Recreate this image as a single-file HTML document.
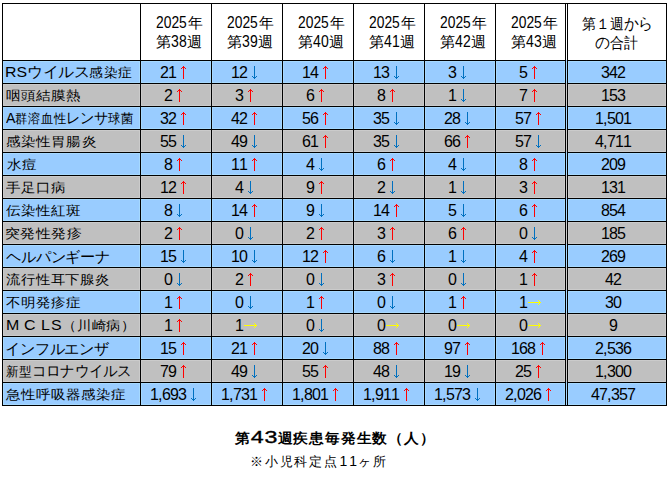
<!DOCTYPE html>
<html><head><meta charset="utf-8"><style>
html,body{margin:0;padding:0;}
body{width:668px;height:485px;background:#fff;position:relative;overflow:hidden;font-family:"Liberation Sans",sans-serif;color:#000;}
.r{position:absolute;}
.hl{position:absolute;height:1px;background:#000;}
.vl{position:absolute;width:1px;background:#000;}
.t{position:absolute;white-space:nowrap;transform-origin:0 0;}
.nm{font-size:15px;letter-spacing:0.3px;line-height:23px;}
.nr{position:absolute;left:0;top:0;height:23px;}
.d{position:absolute;top:0;text-align:center;font-size:16px;line-height:23px;}
.hn{display:inline-block;letter-spacing:0;}
.hn span{display:inline-block;font-size:16.2px;transform:scaleX(0.86);transform-origin:0 0;}
.c1d{display:inline-block;width:12.8px;font-weight:normal;}
.c1d span{display:inline-block;-webkit-text-stroke:0.35px #000;font-size:16px;transform:scaleX(1.38);transform-origin:0 0;}
.fw{display:inline-block;font-size:16.5px;letter-spacing:0;}
.lt{font-size:17px;letter-spacing:0;}
.kn{font-size:16.5px;letter-spacing:-0.3px;}
.hg{font-size:16px;}
.c2d{display:inline-block;width:9.8px;text-align:center;font-size:14px;letter-spacing:0;}
.hd{font-size:15px;letter-spacing:0px;line-height:20px;}
.cap1{font-weight:bold;font-size:14px;letter-spacing:1px;line-height:20px;}
.cap2{font-size:13px;letter-spacing:1.8px;line-height:16px;}
</style></head><body>

<div class="r" style="left:2px;top:60px;width:665px;height:23px;background:#99ccff"></div>
<div class="r" style="left:2px;top:83px;width:665px;height:23px;background:#c0c0c0"></div>
<div class="r" style="left:2px;top:106px;width:665px;height:23px;background:#99ccff"></div>
<div class="r" style="left:2px;top:129px;width:665px;height:23px;background:#c0c0c0"></div>
<div class="r" style="left:2px;top:152px;width:665px;height:23px;background:#99ccff"></div>
<div class="r" style="left:2px;top:175px;width:665px;height:23px;background:#c0c0c0"></div>
<div class="r" style="left:2px;top:198px;width:665px;height:23px;background:#99ccff"></div>
<div class="r" style="left:2px;top:221px;width:665px;height:23px;background:#c0c0c0"></div>
<div class="r" style="left:2px;top:244px;width:665px;height:23px;background:#99ccff"></div>
<div class="r" style="left:2px;top:267px;width:665px;height:23px;background:#c0c0c0"></div>
<div class="r" style="left:2px;top:290px;width:665px;height:23px;background:#99ccff"></div>
<div class="r" style="left:2px;top:313px;width:665px;height:23px;background:#c0c0c0"></div>
<div class="r" style="left:2px;top:336px;width:665px;height:23px;background:#99ccff"></div>
<div class="r" style="left:2px;top:359px;width:665px;height:23px;background:#c0c0c0"></div>
<div class="r" style="left:2px;top:382px;width:665px;height:23px;background:#99ccff"></div>
<div class="r" style="left:3px;top:61px;width:663px;height:1px;background:#a6d9ff"></div>
<div class="r" style="left:3px;top:82px;width:663px;height:1px;background:#a6d9ff"></div>
<div class="r" style="left:3px;top:61px;width:1px;height:22px;background:#a6d9ff"></div>
<div class="r" style="left:139px;top:61px;width:1px;height:22px;background:#a6d9ff"></div>
<div class="r" style="left:141px;top:61px;width:1px;height:22px;background:#a6d9ff"></div>
<div class="r" style="left:210px;top:61px;width:1px;height:22px;background:#a6d9ff"></div>
<div class="r" style="left:212px;top:61px;width:1px;height:22px;background:#a6d9ff"></div>
<div class="r" style="left:281px;top:61px;width:1px;height:22px;background:#a6d9ff"></div>
<div class="r" style="left:283px;top:61px;width:1px;height:22px;background:#a6d9ff"></div>
<div class="r" style="left:352px;top:61px;width:1px;height:22px;background:#a6d9ff"></div>
<div class="r" style="left:354px;top:61px;width:1px;height:22px;background:#a6d9ff"></div>
<div class="r" style="left:423px;top:61px;width:1px;height:22px;background:#a6d9ff"></div>
<div class="r" style="left:425px;top:61px;width:1px;height:22px;background:#a6d9ff"></div>
<div class="r" style="left:494px;top:61px;width:1px;height:22px;background:#a6d9ff"></div>
<div class="r" style="left:496px;top:61px;width:1px;height:22px;background:#a6d9ff"></div>
<div class="r" style="left:564px;top:61px;width:1px;height:22px;background:#a6d9ff"></div>
<div class="r" style="left:566px;top:61px;width:1px;height:22px;background:#a6d9ff"></div>
<div class="r" style="left:566px;top:61px;width:1px;height:22px;background:#a6d9ff"></div>
<div class="r" style="left:568px;top:61px;width:1px;height:22px;background:#a6d9ff"></div>
<div class="r" style="left:665px;top:61px;width:1px;height:22px;background:#a6d9ff"></div>
<div class="r" style="left:3px;top:84px;width:663px;height:1px;background:#cbcbcb"></div>
<div class="r" style="left:3px;top:105px;width:663px;height:1px;background:#cbcbcb"></div>
<div class="r" style="left:3px;top:84px;width:1px;height:22px;background:#cbcbcb"></div>
<div class="r" style="left:139px;top:84px;width:1px;height:22px;background:#cbcbcb"></div>
<div class="r" style="left:141px;top:84px;width:1px;height:22px;background:#cbcbcb"></div>
<div class="r" style="left:210px;top:84px;width:1px;height:22px;background:#cbcbcb"></div>
<div class="r" style="left:212px;top:84px;width:1px;height:22px;background:#cbcbcb"></div>
<div class="r" style="left:281px;top:84px;width:1px;height:22px;background:#cbcbcb"></div>
<div class="r" style="left:283px;top:84px;width:1px;height:22px;background:#cbcbcb"></div>
<div class="r" style="left:352px;top:84px;width:1px;height:22px;background:#cbcbcb"></div>
<div class="r" style="left:354px;top:84px;width:1px;height:22px;background:#cbcbcb"></div>
<div class="r" style="left:423px;top:84px;width:1px;height:22px;background:#cbcbcb"></div>
<div class="r" style="left:425px;top:84px;width:1px;height:22px;background:#cbcbcb"></div>
<div class="r" style="left:494px;top:84px;width:1px;height:22px;background:#cbcbcb"></div>
<div class="r" style="left:496px;top:84px;width:1px;height:22px;background:#cbcbcb"></div>
<div class="r" style="left:564px;top:84px;width:1px;height:22px;background:#cbcbcb"></div>
<div class="r" style="left:566px;top:84px;width:1px;height:22px;background:#cbcbcb"></div>
<div class="r" style="left:566px;top:84px;width:1px;height:22px;background:#cbcbcb"></div>
<div class="r" style="left:568px;top:84px;width:1px;height:22px;background:#cbcbcb"></div>
<div class="r" style="left:665px;top:84px;width:1px;height:22px;background:#cbcbcb"></div>
<div class="r" style="left:3px;top:107px;width:663px;height:1px;background:#a6d9ff"></div>
<div class="r" style="left:3px;top:128px;width:663px;height:1px;background:#a6d9ff"></div>
<div class="r" style="left:3px;top:107px;width:1px;height:22px;background:#a6d9ff"></div>
<div class="r" style="left:139px;top:107px;width:1px;height:22px;background:#a6d9ff"></div>
<div class="r" style="left:141px;top:107px;width:1px;height:22px;background:#a6d9ff"></div>
<div class="r" style="left:210px;top:107px;width:1px;height:22px;background:#a6d9ff"></div>
<div class="r" style="left:212px;top:107px;width:1px;height:22px;background:#a6d9ff"></div>
<div class="r" style="left:281px;top:107px;width:1px;height:22px;background:#a6d9ff"></div>
<div class="r" style="left:283px;top:107px;width:1px;height:22px;background:#a6d9ff"></div>
<div class="r" style="left:352px;top:107px;width:1px;height:22px;background:#a6d9ff"></div>
<div class="r" style="left:354px;top:107px;width:1px;height:22px;background:#a6d9ff"></div>
<div class="r" style="left:423px;top:107px;width:1px;height:22px;background:#a6d9ff"></div>
<div class="r" style="left:425px;top:107px;width:1px;height:22px;background:#a6d9ff"></div>
<div class="r" style="left:494px;top:107px;width:1px;height:22px;background:#a6d9ff"></div>
<div class="r" style="left:496px;top:107px;width:1px;height:22px;background:#a6d9ff"></div>
<div class="r" style="left:564px;top:107px;width:1px;height:22px;background:#a6d9ff"></div>
<div class="r" style="left:566px;top:107px;width:1px;height:22px;background:#a6d9ff"></div>
<div class="r" style="left:566px;top:107px;width:1px;height:22px;background:#a6d9ff"></div>
<div class="r" style="left:568px;top:107px;width:1px;height:22px;background:#a6d9ff"></div>
<div class="r" style="left:665px;top:107px;width:1px;height:22px;background:#a6d9ff"></div>
<div class="r" style="left:3px;top:130px;width:663px;height:1px;background:#cbcbcb"></div>
<div class="r" style="left:3px;top:151px;width:663px;height:1px;background:#cbcbcb"></div>
<div class="r" style="left:3px;top:130px;width:1px;height:22px;background:#cbcbcb"></div>
<div class="r" style="left:139px;top:130px;width:1px;height:22px;background:#cbcbcb"></div>
<div class="r" style="left:141px;top:130px;width:1px;height:22px;background:#cbcbcb"></div>
<div class="r" style="left:210px;top:130px;width:1px;height:22px;background:#cbcbcb"></div>
<div class="r" style="left:212px;top:130px;width:1px;height:22px;background:#cbcbcb"></div>
<div class="r" style="left:281px;top:130px;width:1px;height:22px;background:#cbcbcb"></div>
<div class="r" style="left:283px;top:130px;width:1px;height:22px;background:#cbcbcb"></div>
<div class="r" style="left:352px;top:130px;width:1px;height:22px;background:#cbcbcb"></div>
<div class="r" style="left:354px;top:130px;width:1px;height:22px;background:#cbcbcb"></div>
<div class="r" style="left:423px;top:130px;width:1px;height:22px;background:#cbcbcb"></div>
<div class="r" style="left:425px;top:130px;width:1px;height:22px;background:#cbcbcb"></div>
<div class="r" style="left:494px;top:130px;width:1px;height:22px;background:#cbcbcb"></div>
<div class="r" style="left:496px;top:130px;width:1px;height:22px;background:#cbcbcb"></div>
<div class="r" style="left:564px;top:130px;width:1px;height:22px;background:#cbcbcb"></div>
<div class="r" style="left:566px;top:130px;width:1px;height:22px;background:#cbcbcb"></div>
<div class="r" style="left:566px;top:130px;width:1px;height:22px;background:#cbcbcb"></div>
<div class="r" style="left:568px;top:130px;width:1px;height:22px;background:#cbcbcb"></div>
<div class="r" style="left:665px;top:130px;width:1px;height:22px;background:#cbcbcb"></div>
<div class="r" style="left:3px;top:153px;width:663px;height:1px;background:#a6d9ff"></div>
<div class="r" style="left:3px;top:174px;width:663px;height:1px;background:#a6d9ff"></div>
<div class="r" style="left:3px;top:153px;width:1px;height:22px;background:#a6d9ff"></div>
<div class="r" style="left:139px;top:153px;width:1px;height:22px;background:#a6d9ff"></div>
<div class="r" style="left:141px;top:153px;width:1px;height:22px;background:#a6d9ff"></div>
<div class="r" style="left:210px;top:153px;width:1px;height:22px;background:#a6d9ff"></div>
<div class="r" style="left:212px;top:153px;width:1px;height:22px;background:#a6d9ff"></div>
<div class="r" style="left:281px;top:153px;width:1px;height:22px;background:#a6d9ff"></div>
<div class="r" style="left:283px;top:153px;width:1px;height:22px;background:#a6d9ff"></div>
<div class="r" style="left:352px;top:153px;width:1px;height:22px;background:#a6d9ff"></div>
<div class="r" style="left:354px;top:153px;width:1px;height:22px;background:#a6d9ff"></div>
<div class="r" style="left:423px;top:153px;width:1px;height:22px;background:#a6d9ff"></div>
<div class="r" style="left:425px;top:153px;width:1px;height:22px;background:#a6d9ff"></div>
<div class="r" style="left:494px;top:153px;width:1px;height:22px;background:#a6d9ff"></div>
<div class="r" style="left:496px;top:153px;width:1px;height:22px;background:#a6d9ff"></div>
<div class="r" style="left:564px;top:153px;width:1px;height:22px;background:#a6d9ff"></div>
<div class="r" style="left:566px;top:153px;width:1px;height:22px;background:#a6d9ff"></div>
<div class="r" style="left:566px;top:153px;width:1px;height:22px;background:#a6d9ff"></div>
<div class="r" style="left:568px;top:153px;width:1px;height:22px;background:#a6d9ff"></div>
<div class="r" style="left:665px;top:153px;width:1px;height:22px;background:#a6d9ff"></div>
<div class="r" style="left:3px;top:176px;width:663px;height:1px;background:#cbcbcb"></div>
<div class="r" style="left:3px;top:197px;width:663px;height:1px;background:#cbcbcb"></div>
<div class="r" style="left:3px;top:176px;width:1px;height:22px;background:#cbcbcb"></div>
<div class="r" style="left:139px;top:176px;width:1px;height:22px;background:#cbcbcb"></div>
<div class="r" style="left:141px;top:176px;width:1px;height:22px;background:#cbcbcb"></div>
<div class="r" style="left:210px;top:176px;width:1px;height:22px;background:#cbcbcb"></div>
<div class="r" style="left:212px;top:176px;width:1px;height:22px;background:#cbcbcb"></div>
<div class="r" style="left:281px;top:176px;width:1px;height:22px;background:#cbcbcb"></div>
<div class="r" style="left:283px;top:176px;width:1px;height:22px;background:#cbcbcb"></div>
<div class="r" style="left:352px;top:176px;width:1px;height:22px;background:#cbcbcb"></div>
<div class="r" style="left:354px;top:176px;width:1px;height:22px;background:#cbcbcb"></div>
<div class="r" style="left:423px;top:176px;width:1px;height:22px;background:#cbcbcb"></div>
<div class="r" style="left:425px;top:176px;width:1px;height:22px;background:#cbcbcb"></div>
<div class="r" style="left:494px;top:176px;width:1px;height:22px;background:#cbcbcb"></div>
<div class="r" style="left:496px;top:176px;width:1px;height:22px;background:#cbcbcb"></div>
<div class="r" style="left:564px;top:176px;width:1px;height:22px;background:#cbcbcb"></div>
<div class="r" style="left:566px;top:176px;width:1px;height:22px;background:#cbcbcb"></div>
<div class="r" style="left:566px;top:176px;width:1px;height:22px;background:#cbcbcb"></div>
<div class="r" style="left:568px;top:176px;width:1px;height:22px;background:#cbcbcb"></div>
<div class="r" style="left:665px;top:176px;width:1px;height:22px;background:#cbcbcb"></div>
<div class="r" style="left:3px;top:199px;width:663px;height:1px;background:#a6d9ff"></div>
<div class="r" style="left:3px;top:220px;width:663px;height:1px;background:#a6d9ff"></div>
<div class="r" style="left:3px;top:199px;width:1px;height:22px;background:#a6d9ff"></div>
<div class="r" style="left:139px;top:199px;width:1px;height:22px;background:#a6d9ff"></div>
<div class="r" style="left:141px;top:199px;width:1px;height:22px;background:#a6d9ff"></div>
<div class="r" style="left:210px;top:199px;width:1px;height:22px;background:#a6d9ff"></div>
<div class="r" style="left:212px;top:199px;width:1px;height:22px;background:#a6d9ff"></div>
<div class="r" style="left:281px;top:199px;width:1px;height:22px;background:#a6d9ff"></div>
<div class="r" style="left:283px;top:199px;width:1px;height:22px;background:#a6d9ff"></div>
<div class="r" style="left:352px;top:199px;width:1px;height:22px;background:#a6d9ff"></div>
<div class="r" style="left:354px;top:199px;width:1px;height:22px;background:#a6d9ff"></div>
<div class="r" style="left:423px;top:199px;width:1px;height:22px;background:#a6d9ff"></div>
<div class="r" style="left:425px;top:199px;width:1px;height:22px;background:#a6d9ff"></div>
<div class="r" style="left:494px;top:199px;width:1px;height:22px;background:#a6d9ff"></div>
<div class="r" style="left:496px;top:199px;width:1px;height:22px;background:#a6d9ff"></div>
<div class="r" style="left:564px;top:199px;width:1px;height:22px;background:#a6d9ff"></div>
<div class="r" style="left:566px;top:199px;width:1px;height:22px;background:#a6d9ff"></div>
<div class="r" style="left:566px;top:199px;width:1px;height:22px;background:#a6d9ff"></div>
<div class="r" style="left:568px;top:199px;width:1px;height:22px;background:#a6d9ff"></div>
<div class="r" style="left:665px;top:199px;width:1px;height:22px;background:#a6d9ff"></div>
<div class="r" style="left:3px;top:222px;width:663px;height:1px;background:#cbcbcb"></div>
<div class="r" style="left:3px;top:243px;width:663px;height:1px;background:#cbcbcb"></div>
<div class="r" style="left:3px;top:222px;width:1px;height:22px;background:#cbcbcb"></div>
<div class="r" style="left:139px;top:222px;width:1px;height:22px;background:#cbcbcb"></div>
<div class="r" style="left:141px;top:222px;width:1px;height:22px;background:#cbcbcb"></div>
<div class="r" style="left:210px;top:222px;width:1px;height:22px;background:#cbcbcb"></div>
<div class="r" style="left:212px;top:222px;width:1px;height:22px;background:#cbcbcb"></div>
<div class="r" style="left:281px;top:222px;width:1px;height:22px;background:#cbcbcb"></div>
<div class="r" style="left:283px;top:222px;width:1px;height:22px;background:#cbcbcb"></div>
<div class="r" style="left:352px;top:222px;width:1px;height:22px;background:#cbcbcb"></div>
<div class="r" style="left:354px;top:222px;width:1px;height:22px;background:#cbcbcb"></div>
<div class="r" style="left:423px;top:222px;width:1px;height:22px;background:#cbcbcb"></div>
<div class="r" style="left:425px;top:222px;width:1px;height:22px;background:#cbcbcb"></div>
<div class="r" style="left:494px;top:222px;width:1px;height:22px;background:#cbcbcb"></div>
<div class="r" style="left:496px;top:222px;width:1px;height:22px;background:#cbcbcb"></div>
<div class="r" style="left:564px;top:222px;width:1px;height:22px;background:#cbcbcb"></div>
<div class="r" style="left:566px;top:222px;width:1px;height:22px;background:#cbcbcb"></div>
<div class="r" style="left:566px;top:222px;width:1px;height:22px;background:#cbcbcb"></div>
<div class="r" style="left:568px;top:222px;width:1px;height:22px;background:#cbcbcb"></div>
<div class="r" style="left:665px;top:222px;width:1px;height:22px;background:#cbcbcb"></div>
<div class="r" style="left:3px;top:245px;width:663px;height:1px;background:#a6d9ff"></div>
<div class="r" style="left:3px;top:266px;width:663px;height:1px;background:#a6d9ff"></div>
<div class="r" style="left:3px;top:245px;width:1px;height:22px;background:#a6d9ff"></div>
<div class="r" style="left:139px;top:245px;width:1px;height:22px;background:#a6d9ff"></div>
<div class="r" style="left:141px;top:245px;width:1px;height:22px;background:#a6d9ff"></div>
<div class="r" style="left:210px;top:245px;width:1px;height:22px;background:#a6d9ff"></div>
<div class="r" style="left:212px;top:245px;width:1px;height:22px;background:#a6d9ff"></div>
<div class="r" style="left:281px;top:245px;width:1px;height:22px;background:#a6d9ff"></div>
<div class="r" style="left:283px;top:245px;width:1px;height:22px;background:#a6d9ff"></div>
<div class="r" style="left:352px;top:245px;width:1px;height:22px;background:#a6d9ff"></div>
<div class="r" style="left:354px;top:245px;width:1px;height:22px;background:#a6d9ff"></div>
<div class="r" style="left:423px;top:245px;width:1px;height:22px;background:#a6d9ff"></div>
<div class="r" style="left:425px;top:245px;width:1px;height:22px;background:#a6d9ff"></div>
<div class="r" style="left:494px;top:245px;width:1px;height:22px;background:#a6d9ff"></div>
<div class="r" style="left:496px;top:245px;width:1px;height:22px;background:#a6d9ff"></div>
<div class="r" style="left:564px;top:245px;width:1px;height:22px;background:#a6d9ff"></div>
<div class="r" style="left:566px;top:245px;width:1px;height:22px;background:#a6d9ff"></div>
<div class="r" style="left:566px;top:245px;width:1px;height:22px;background:#a6d9ff"></div>
<div class="r" style="left:568px;top:245px;width:1px;height:22px;background:#a6d9ff"></div>
<div class="r" style="left:665px;top:245px;width:1px;height:22px;background:#a6d9ff"></div>
<div class="r" style="left:3px;top:268px;width:663px;height:1px;background:#cbcbcb"></div>
<div class="r" style="left:3px;top:289px;width:663px;height:1px;background:#cbcbcb"></div>
<div class="r" style="left:3px;top:268px;width:1px;height:22px;background:#cbcbcb"></div>
<div class="r" style="left:139px;top:268px;width:1px;height:22px;background:#cbcbcb"></div>
<div class="r" style="left:141px;top:268px;width:1px;height:22px;background:#cbcbcb"></div>
<div class="r" style="left:210px;top:268px;width:1px;height:22px;background:#cbcbcb"></div>
<div class="r" style="left:212px;top:268px;width:1px;height:22px;background:#cbcbcb"></div>
<div class="r" style="left:281px;top:268px;width:1px;height:22px;background:#cbcbcb"></div>
<div class="r" style="left:283px;top:268px;width:1px;height:22px;background:#cbcbcb"></div>
<div class="r" style="left:352px;top:268px;width:1px;height:22px;background:#cbcbcb"></div>
<div class="r" style="left:354px;top:268px;width:1px;height:22px;background:#cbcbcb"></div>
<div class="r" style="left:423px;top:268px;width:1px;height:22px;background:#cbcbcb"></div>
<div class="r" style="left:425px;top:268px;width:1px;height:22px;background:#cbcbcb"></div>
<div class="r" style="left:494px;top:268px;width:1px;height:22px;background:#cbcbcb"></div>
<div class="r" style="left:496px;top:268px;width:1px;height:22px;background:#cbcbcb"></div>
<div class="r" style="left:564px;top:268px;width:1px;height:22px;background:#cbcbcb"></div>
<div class="r" style="left:566px;top:268px;width:1px;height:22px;background:#cbcbcb"></div>
<div class="r" style="left:566px;top:268px;width:1px;height:22px;background:#cbcbcb"></div>
<div class="r" style="left:568px;top:268px;width:1px;height:22px;background:#cbcbcb"></div>
<div class="r" style="left:665px;top:268px;width:1px;height:22px;background:#cbcbcb"></div>
<div class="r" style="left:3px;top:291px;width:663px;height:1px;background:#a6d9ff"></div>
<div class="r" style="left:3px;top:312px;width:663px;height:1px;background:#a6d9ff"></div>
<div class="r" style="left:3px;top:291px;width:1px;height:22px;background:#a6d9ff"></div>
<div class="r" style="left:139px;top:291px;width:1px;height:22px;background:#a6d9ff"></div>
<div class="r" style="left:141px;top:291px;width:1px;height:22px;background:#a6d9ff"></div>
<div class="r" style="left:210px;top:291px;width:1px;height:22px;background:#a6d9ff"></div>
<div class="r" style="left:212px;top:291px;width:1px;height:22px;background:#a6d9ff"></div>
<div class="r" style="left:281px;top:291px;width:1px;height:22px;background:#a6d9ff"></div>
<div class="r" style="left:283px;top:291px;width:1px;height:22px;background:#a6d9ff"></div>
<div class="r" style="left:352px;top:291px;width:1px;height:22px;background:#a6d9ff"></div>
<div class="r" style="left:354px;top:291px;width:1px;height:22px;background:#a6d9ff"></div>
<div class="r" style="left:423px;top:291px;width:1px;height:22px;background:#a6d9ff"></div>
<div class="r" style="left:425px;top:291px;width:1px;height:22px;background:#a6d9ff"></div>
<div class="r" style="left:494px;top:291px;width:1px;height:22px;background:#a6d9ff"></div>
<div class="r" style="left:496px;top:291px;width:1px;height:22px;background:#a6d9ff"></div>
<div class="r" style="left:564px;top:291px;width:1px;height:22px;background:#a6d9ff"></div>
<div class="r" style="left:566px;top:291px;width:1px;height:22px;background:#a6d9ff"></div>
<div class="r" style="left:566px;top:291px;width:1px;height:22px;background:#a6d9ff"></div>
<div class="r" style="left:568px;top:291px;width:1px;height:22px;background:#a6d9ff"></div>
<div class="r" style="left:665px;top:291px;width:1px;height:22px;background:#a6d9ff"></div>
<div class="r" style="left:3px;top:314px;width:663px;height:1px;background:#cbcbcb"></div>
<div class="r" style="left:3px;top:335px;width:663px;height:1px;background:#cbcbcb"></div>
<div class="r" style="left:3px;top:314px;width:1px;height:22px;background:#cbcbcb"></div>
<div class="r" style="left:139px;top:314px;width:1px;height:22px;background:#cbcbcb"></div>
<div class="r" style="left:141px;top:314px;width:1px;height:22px;background:#cbcbcb"></div>
<div class="r" style="left:210px;top:314px;width:1px;height:22px;background:#cbcbcb"></div>
<div class="r" style="left:212px;top:314px;width:1px;height:22px;background:#cbcbcb"></div>
<div class="r" style="left:281px;top:314px;width:1px;height:22px;background:#cbcbcb"></div>
<div class="r" style="left:283px;top:314px;width:1px;height:22px;background:#cbcbcb"></div>
<div class="r" style="left:352px;top:314px;width:1px;height:22px;background:#cbcbcb"></div>
<div class="r" style="left:354px;top:314px;width:1px;height:22px;background:#cbcbcb"></div>
<div class="r" style="left:423px;top:314px;width:1px;height:22px;background:#cbcbcb"></div>
<div class="r" style="left:425px;top:314px;width:1px;height:22px;background:#cbcbcb"></div>
<div class="r" style="left:494px;top:314px;width:1px;height:22px;background:#cbcbcb"></div>
<div class="r" style="left:496px;top:314px;width:1px;height:22px;background:#cbcbcb"></div>
<div class="r" style="left:564px;top:314px;width:1px;height:22px;background:#cbcbcb"></div>
<div class="r" style="left:566px;top:314px;width:1px;height:22px;background:#cbcbcb"></div>
<div class="r" style="left:566px;top:314px;width:1px;height:22px;background:#cbcbcb"></div>
<div class="r" style="left:568px;top:314px;width:1px;height:22px;background:#cbcbcb"></div>
<div class="r" style="left:665px;top:314px;width:1px;height:22px;background:#cbcbcb"></div>
<div class="r" style="left:3px;top:337px;width:663px;height:1px;background:#a6d9ff"></div>
<div class="r" style="left:3px;top:358px;width:663px;height:1px;background:#a6d9ff"></div>
<div class="r" style="left:3px;top:337px;width:1px;height:22px;background:#a6d9ff"></div>
<div class="r" style="left:139px;top:337px;width:1px;height:22px;background:#a6d9ff"></div>
<div class="r" style="left:141px;top:337px;width:1px;height:22px;background:#a6d9ff"></div>
<div class="r" style="left:210px;top:337px;width:1px;height:22px;background:#a6d9ff"></div>
<div class="r" style="left:212px;top:337px;width:1px;height:22px;background:#a6d9ff"></div>
<div class="r" style="left:281px;top:337px;width:1px;height:22px;background:#a6d9ff"></div>
<div class="r" style="left:283px;top:337px;width:1px;height:22px;background:#a6d9ff"></div>
<div class="r" style="left:352px;top:337px;width:1px;height:22px;background:#a6d9ff"></div>
<div class="r" style="left:354px;top:337px;width:1px;height:22px;background:#a6d9ff"></div>
<div class="r" style="left:423px;top:337px;width:1px;height:22px;background:#a6d9ff"></div>
<div class="r" style="left:425px;top:337px;width:1px;height:22px;background:#a6d9ff"></div>
<div class="r" style="left:494px;top:337px;width:1px;height:22px;background:#a6d9ff"></div>
<div class="r" style="left:496px;top:337px;width:1px;height:22px;background:#a6d9ff"></div>
<div class="r" style="left:564px;top:337px;width:1px;height:22px;background:#a6d9ff"></div>
<div class="r" style="left:566px;top:337px;width:1px;height:22px;background:#a6d9ff"></div>
<div class="r" style="left:566px;top:337px;width:1px;height:22px;background:#a6d9ff"></div>
<div class="r" style="left:568px;top:337px;width:1px;height:22px;background:#a6d9ff"></div>
<div class="r" style="left:665px;top:337px;width:1px;height:22px;background:#a6d9ff"></div>
<div class="r" style="left:3px;top:360px;width:663px;height:1px;background:#cbcbcb"></div>
<div class="r" style="left:3px;top:381px;width:663px;height:1px;background:#cbcbcb"></div>
<div class="r" style="left:3px;top:360px;width:1px;height:22px;background:#cbcbcb"></div>
<div class="r" style="left:139px;top:360px;width:1px;height:22px;background:#cbcbcb"></div>
<div class="r" style="left:141px;top:360px;width:1px;height:22px;background:#cbcbcb"></div>
<div class="r" style="left:210px;top:360px;width:1px;height:22px;background:#cbcbcb"></div>
<div class="r" style="left:212px;top:360px;width:1px;height:22px;background:#cbcbcb"></div>
<div class="r" style="left:281px;top:360px;width:1px;height:22px;background:#cbcbcb"></div>
<div class="r" style="left:283px;top:360px;width:1px;height:22px;background:#cbcbcb"></div>
<div class="r" style="left:352px;top:360px;width:1px;height:22px;background:#cbcbcb"></div>
<div class="r" style="left:354px;top:360px;width:1px;height:22px;background:#cbcbcb"></div>
<div class="r" style="left:423px;top:360px;width:1px;height:22px;background:#cbcbcb"></div>
<div class="r" style="left:425px;top:360px;width:1px;height:22px;background:#cbcbcb"></div>
<div class="r" style="left:494px;top:360px;width:1px;height:22px;background:#cbcbcb"></div>
<div class="r" style="left:496px;top:360px;width:1px;height:22px;background:#cbcbcb"></div>
<div class="r" style="left:564px;top:360px;width:1px;height:22px;background:#cbcbcb"></div>
<div class="r" style="left:566px;top:360px;width:1px;height:22px;background:#cbcbcb"></div>
<div class="r" style="left:566px;top:360px;width:1px;height:22px;background:#cbcbcb"></div>
<div class="r" style="left:568px;top:360px;width:1px;height:22px;background:#cbcbcb"></div>
<div class="r" style="left:665px;top:360px;width:1px;height:22px;background:#cbcbcb"></div>
<div class="r" style="left:3px;top:383px;width:663px;height:1px;background:#a6d9ff"></div>
<div class="r" style="left:3px;top:404px;width:663px;height:1px;background:#a6d9ff"></div>
<div class="r" style="left:3px;top:383px;width:1px;height:22px;background:#a6d9ff"></div>
<div class="r" style="left:139px;top:383px;width:1px;height:22px;background:#a6d9ff"></div>
<div class="r" style="left:141px;top:383px;width:1px;height:22px;background:#a6d9ff"></div>
<div class="r" style="left:210px;top:383px;width:1px;height:22px;background:#a6d9ff"></div>
<div class="r" style="left:212px;top:383px;width:1px;height:22px;background:#a6d9ff"></div>
<div class="r" style="left:281px;top:383px;width:1px;height:22px;background:#a6d9ff"></div>
<div class="r" style="left:283px;top:383px;width:1px;height:22px;background:#a6d9ff"></div>
<div class="r" style="left:352px;top:383px;width:1px;height:22px;background:#a6d9ff"></div>
<div class="r" style="left:354px;top:383px;width:1px;height:22px;background:#a6d9ff"></div>
<div class="r" style="left:423px;top:383px;width:1px;height:22px;background:#a6d9ff"></div>
<div class="r" style="left:425px;top:383px;width:1px;height:22px;background:#a6d9ff"></div>
<div class="r" style="left:494px;top:383px;width:1px;height:22px;background:#a6d9ff"></div>
<div class="r" style="left:496px;top:383px;width:1px;height:22px;background:#a6d9ff"></div>
<div class="r" style="left:564px;top:383px;width:1px;height:22px;background:#a6d9ff"></div>
<div class="r" style="left:566px;top:383px;width:1px;height:22px;background:#a6d9ff"></div>
<div class="r" style="left:566px;top:383px;width:1px;height:22px;background:#a6d9ff"></div>
<div class="r" style="left:568px;top:383px;width:1px;height:22px;background:#a6d9ff"></div>
<div class="r" style="left:665px;top:383px;width:1px;height:22px;background:#a6d9ff"></div>
<div class="hl" style="left:2px;top:3px;width:665px"></div>
<div class="hl" style="left:2px;top:60px;width:564px"></div>
<div class="hl" style="left:567px;top:60px;width:100px"></div>
<div class="hl" style="left:2px;top:83px;width:564px"></div>
<div class="hl" style="left:567px;top:83px;width:100px"></div>
<div class="hl" style="left:2px;top:106px;width:564px"></div>
<div class="hl" style="left:567px;top:106px;width:100px"></div>
<div class="hl" style="left:2px;top:129px;width:564px"></div>
<div class="hl" style="left:567px;top:129px;width:100px"></div>
<div class="hl" style="left:2px;top:152px;width:564px"></div>
<div class="hl" style="left:567px;top:152px;width:100px"></div>
<div class="hl" style="left:2px;top:175px;width:564px"></div>
<div class="hl" style="left:567px;top:175px;width:100px"></div>
<div class="hl" style="left:2px;top:198px;width:564px"></div>
<div class="hl" style="left:567px;top:198px;width:100px"></div>
<div class="hl" style="left:2px;top:221px;width:564px"></div>
<div class="hl" style="left:567px;top:221px;width:100px"></div>
<div class="hl" style="left:2px;top:244px;width:564px"></div>
<div class="hl" style="left:567px;top:244px;width:100px"></div>
<div class="hl" style="left:2px;top:267px;width:564px"></div>
<div class="hl" style="left:567px;top:267px;width:100px"></div>
<div class="hl" style="left:2px;top:290px;width:564px"></div>
<div class="hl" style="left:567px;top:290px;width:100px"></div>
<div class="hl" style="left:2px;top:313px;width:564px"></div>
<div class="hl" style="left:567px;top:313px;width:100px"></div>
<div class="hl" style="left:2px;top:336px;width:564px"></div>
<div class="hl" style="left:567px;top:336px;width:100px"></div>
<div class="hl" style="left:2px;top:359px;width:564px"></div>
<div class="hl" style="left:567px;top:359px;width:100px"></div>
<div class="hl" style="left:2px;top:382px;width:564px"></div>
<div class="hl" style="left:567px;top:382px;width:100px"></div>
<div class="hl" style="left:2px;top:405px;width:665px"></div>
<div class="vl" style="left:2px;top:3px;height:403px"></div>
<div class="vl" style="left:140px;top:3px;height:403px"></div>
<div class="vl" style="left:211px;top:3px;height:403px"></div>
<div class="vl" style="left:282px;top:3px;height:403px"></div>
<div class="vl" style="left:353px;top:3px;height:403px"></div>
<div class="vl" style="left:424px;top:3px;height:403px"></div>
<div class="vl" style="left:495px;top:3px;height:403px"></div>
<div class="vl" style="left:565px;top:3px;height:403px"></div>
<div class="vl" style="left:567px;top:3px;height:403px"></div>
<div class="vl" style="left:666px;top:3px;height:403px"></div>
<div class="t nm" id="n0" style="left:5.04px;top:62.40px;transform:scale(0.9327,0.88)"><span class="lt">RS</span><span class="kn">ウイルス</span>感染症</div>
<div class="nr" style="top:61px"><span class="d" style="left:160px;width:8px">2</span><span class="d" style="left:168px;width:8px">1</span></div>
<div class="nr" style="top:61px"><span class="d" style="left:231px;width:8px">1</span><span class="d" style="left:239px;width:8px">2</span></div>
<div class="nr" style="top:61px"><span class="d" style="left:302px;width:8px">1</span><span class="d" style="left:310px;width:8px">4</span></div>
<div class="nr" style="top:61px"><span class="d" style="left:373px;width:8px">1</span><span class="d" style="left:381px;width:8px">3</span></div>
<div class="nr" style="top:61px"><span class="d" style="left:448px;width:8px">3</span></div>
<div class="nr" style="top:61px"><span class="d" style="left:519px;width:8px">5</span></div>
<div class="nr" style="top:61px"><span class="d" style="left:601px;width:8px">3</span><span class="d" style="left:609px;width:8px">4</span><span class="d" style="left:617px;width:8px">2</span></div>
<div class="t nm" id="n1" style="left:6.04px;top:85.40px;transform:scale(0.9793,0.88)">咽頭結膜熱</div>
<div class="nr" style="top:84px"><span class="d" style="left:164px;width:8px">2</span></div>
<div class="nr" style="top:84px"><span class="d" style="left:235px;width:8px">3</span></div>
<div class="nr" style="top:84px"><span class="d" style="left:306px;width:8px">6</span></div>
<div class="nr" style="top:84px"><span class="d" style="left:377px;width:8px">8</span></div>
<div class="nr" style="top:84px"><span class="d" style="left:448px;width:8px">1</span></div>
<div class="nr" style="top:84px"><span class="d" style="left:519px;width:8px">7</span></div>
<div class="nr" style="top:84px"><span class="d" style="left:601px;width:8px">1</span><span class="d" style="left:609px;width:8px">5</span><span class="d" style="left:617px;width:8px">3</span></div>
<div class="t nm" id="n2" style="left:6.00px;top:108.40px;transform:scale(0.8310,0.88)"><span class="lt">A</span>群溶血性<span class="kn">レンサ</span>球菌</div>
<div class="nr" style="top:107px"><span class="d" style="left:160px;width:8px">3</span><span class="d" style="left:168px;width:8px">2</span></div>
<div class="nr" style="top:107px"><span class="d" style="left:231px;width:8px">4</span><span class="d" style="left:239px;width:8px">2</span></div>
<div class="nr" style="top:107px"><span class="d" style="left:302px;width:8px">5</span><span class="d" style="left:310px;width:8px">6</span></div>
<div class="nr" style="top:107px"><span class="d" style="left:373px;width:8px">3</span><span class="d" style="left:381px;width:8px">5</span></div>
<div class="nr" style="top:107px"><span class="d" style="left:444px;width:8px">2</span><span class="d" style="left:452px;width:8px">8</span></div>
<div class="nr" style="top:107px"><span class="d" style="left:515px;width:8px">5</span><span class="d" style="left:523px;width:8px">7</span></div>
<div class="nr" style="top:107px"><span class="d" style="left:595px;width:8px">1</span><span class="d" style="left:603px;width:4px">,</span><span class="d" style="left:607px;width:8px">5</span><span class="d" style="left:615px;width:8px">0</span><span class="d" style="left:623px;width:8px">1</span></div>
<div class="t nm" id="n3" style="left:5.98px;top:131.40px;transform:scale(0.9872,0.88)">感染性胃腸炎</div>
<div class="nr" style="top:130px"><span class="d" style="left:160px;width:8px">5</span><span class="d" style="left:168px;width:8px">5</span></div>
<div class="nr" style="top:130px"><span class="d" style="left:231px;width:8px">4</span><span class="d" style="left:239px;width:8px">9</span></div>
<div class="nr" style="top:130px"><span class="d" style="left:302px;width:8px">6</span><span class="d" style="left:310px;width:8px">1</span></div>
<div class="nr" style="top:130px"><span class="d" style="left:373px;width:8px">3</span><span class="d" style="left:381px;width:8px">5</span></div>
<div class="nr" style="top:130px"><span class="d" style="left:444px;width:8px">6</span><span class="d" style="left:452px;width:8px">6</span></div>
<div class="nr" style="top:130px"><span class="d" style="left:515px;width:8px">5</span><span class="d" style="left:523px;width:8px">7</span></div>
<div class="nr" style="top:130px"><span class="d" style="left:595px;width:8px">4</span><span class="d" style="left:603px;width:4px">,</span><span class="d" style="left:607px;width:8px">7</span><span class="d" style="left:615px;width:8px">1</span><span class="d" style="left:623px;width:8px">1</span></div>
<div class="t nm" id="n4" style="left:6.98px;top:154.40px;transform:scale(0.9875,0.88)">水痘</div>
<div class="nr" style="top:153px"><span class="d" style="left:164px;width:8px">8</span></div>
<div class="nr" style="top:153px"><span class="d" style="left:231px;width:8px">1</span><span class="d" style="left:239px;width:8px">1</span></div>
<div class="nr" style="top:153px"><span class="d" style="left:306px;width:8px">4</span></div>
<div class="nr" style="top:153px"><span class="d" style="left:377px;width:8px">6</span></div>
<div class="nr" style="top:153px"><span class="d" style="left:448px;width:8px">4</span></div>
<div class="nr" style="top:153px"><span class="d" style="left:519px;width:8px">8</span></div>
<div class="nr" style="top:153px"><span class="d" style="left:601px;width:8px">2</span><span class="d" style="left:609px;width:8px">0</span><span class="d" style="left:617px;width:8px">9</span></div>
<div class="t nm" id="n5" style="left:6.00px;top:177.40px;transform:scale(0.9800,0.88)">手足口病</div>
<div class="nr" style="top:176px"><span class="d" style="left:160px;width:8px">1</span><span class="d" style="left:168px;width:8px">2</span></div>
<div class="nr" style="top:176px"><span class="d" style="left:235px;width:8px">4</span></div>
<div class="nr" style="top:176px"><span class="d" style="left:306px;width:8px">9</span></div>
<div class="nr" style="top:176px"><span class="d" style="left:377px;width:8px">2</span></div>
<div class="nr" style="top:176px"><span class="d" style="left:448px;width:8px">1</span></div>
<div class="nr" style="top:176px"><span class="d" style="left:519px;width:8px">3</span></div>
<div class="nr" style="top:176px"><span class="d" style="left:601px;width:8px">1</span><span class="d" style="left:609px;width:8px">3</span><span class="d" style="left:617px;width:8px">1</span></div>
<div class="t nm" id="n6" style="left:6.04px;top:200.40px;transform:scale(0.9793,0.88)">伝染性紅斑</div>
<div class="nr" style="top:199px"><span class="d" style="left:164px;width:8px">8</span></div>
<div class="nr" style="top:199px"><span class="d" style="left:231px;width:8px">1</span><span class="d" style="left:239px;width:8px">4</span></div>
<div class="nr" style="top:199px"><span class="d" style="left:306px;width:8px">9</span></div>
<div class="nr" style="top:199px"><span class="d" style="left:373px;width:8px">1</span><span class="d" style="left:381px;width:8px">4</span></div>
<div class="nr" style="top:199px"><span class="d" style="left:448px;width:8px">5</span></div>
<div class="nr" style="top:199px"><span class="d" style="left:519px;width:8px">6</span></div>
<div class="nr" style="top:199px"><span class="d" style="left:601px;width:8px">8</span><span class="d" style="left:609px;width:8px">5</span><span class="d" style="left:617px;width:8px">4</span></div>
<div class="t nm" id="n7" style="left:5.09px;top:223.40px;transform:scale(1.0060,0.88)">突発性発疹</div>
<div class="nr" style="top:222px"><span class="d" style="left:164px;width:8px">2</span></div>
<div class="nr" style="top:222px"><span class="d" style="left:235px;width:8px">0</span></div>
<div class="nr" style="top:222px"><span class="d" style="left:306px;width:8px">2</span></div>
<div class="nr" style="top:222px"><span class="d" style="left:377px;width:8px">3</span></div>
<div class="nr" style="top:222px"><span class="d" style="left:448px;width:8px">6</span></div>
<div class="nr" style="top:222px"><span class="d" style="left:519px;width:8px">0</span></div>
<div class="nr" style="top:222px"><span class="d" style="left:601px;width:8px">1</span><span class="d" style="left:609px;width:8px">8</span><span class="d" style="left:617px;width:8px">5</span></div>
<div class="t nm" id="n8" style="left:6.00px;top:247.40px;transform:scale(0.8899,0.88)"><span class="kn">ヘルパンギーナ</span></div>
<div class="nr" style="top:245px"><span class="d" style="left:160px;width:8px">1</span><span class="d" style="left:168px;width:8px">5</span></div>
<div class="nr" style="top:245px"><span class="d" style="left:231px;width:8px">1</span><span class="d" style="left:239px;width:8px">0</span></div>
<div class="nr" style="top:245px"><span class="d" style="left:302px;width:8px">1</span><span class="d" style="left:310px;width:8px">2</span></div>
<div class="nr" style="top:245px"><span class="d" style="left:377px;width:8px">6</span></div>
<div class="nr" style="top:245px"><span class="d" style="left:448px;width:8px">1</span></div>
<div class="nr" style="top:245px"><span class="d" style="left:519px;width:8px">4</span></div>
<div class="nr" style="top:245px"><span class="d" style="left:601px;width:8px">2</span><span class="d" style="left:609px;width:8px">6</span><span class="d" style="left:617px;width:8px">9</span></div>
<div class="t nm" id="n9" style="left:6.00px;top:269.40px;transform:scale(0.9717,0.88)">流行性耳下腺炎</div>
<div class="nr" style="top:268px"><span class="d" style="left:164px;width:8px">0</span></div>
<div class="nr" style="top:268px"><span class="d" style="left:235px;width:8px">2</span></div>
<div class="nr" style="top:268px"><span class="d" style="left:306px;width:8px">0</span></div>
<div class="nr" style="top:268px"><span class="d" style="left:377px;width:8px">3</span></div>
<div class="nr" style="top:268px"><span class="d" style="left:448px;width:8px">0</span></div>
<div class="nr" style="top:268px"><span class="d" style="left:519px;width:8px">1</span></div>
<div class="nr" style="top:268px"><span class="d" style="left:605px;width:8px">4</span><span class="d" style="left:613px;width:8px">2</span></div>
<div class="t nm" id="n10" style="left:6.03px;top:292.40px;transform:scale(0.9795,0.88)">不明発疹症</div>
<div class="nr" style="top:291px"><span class="d" style="left:164px;width:8px">1</span></div>
<div class="nr" style="top:291px"><span class="d" style="left:235px;width:8px">0</span></div>
<div class="nr" style="top:291px"><span class="d" style="left:306px;width:8px">1</span></div>
<div class="nr" style="top:291px"><span class="d" style="left:377px;width:8px">0</span></div>
<div class="nr" style="top:291px"><span class="d" style="left:448px;width:8px">1</span></div>
<div class="nr" style="top:291px"><span class="d" style="left:519px;width:8px">1</span></div>
<div class="nr" style="top:291px"><span class="d" style="left:605px;width:8px">3</span><span class="d" style="left:613px;width:8px">0</span></div>
<div class="t nm" id="n11" style="left:5.60px;top:315.40px;transform:scale(0.9663,0.88)"><span class="fw" style="width:18.6px">M</span><span class="fw" style="width:17.7px">C</span><span class="fw" style="width:10.2px">L</span><span class="fw" style="width:11.6px">S</span>（川崎病）</div>
<div class="nr" style="top:314px"><span class="d" style="left:164px;width:8px">1</span></div>
<div class="nr" style="top:314px"><span class="d" style="left:235px;width:8px">1</span></div>
<div class="nr" style="top:314px"><span class="d" style="left:306px;width:8px">0</span></div>
<div class="nr" style="top:314px"><span class="d" style="left:377px;width:8px">0</span></div>
<div class="nr" style="top:314px"><span class="d" style="left:448px;width:8px">0</span></div>
<div class="nr" style="top:314px"><span class="d" style="left:519px;width:8px">0</span></div>
<div class="nr" style="top:314px"><span class="d" style="left:609px;width:8px">9</span></div>
<div class="t nm" id="n12" style="left:5.23px;top:338.90px;transform:scale(0.8899,0.88)"><span class="kn">インフルエンザ</span></div>
<div class="nr" style="top:337px"><span class="d" style="left:160px;width:8px">1</span><span class="d" style="left:168px;width:8px">5</span></div>
<div class="nr" style="top:337px"><span class="d" style="left:231px;width:8px">2</span><span class="d" style="left:239px;width:8px">1</span></div>
<div class="nr" style="top:337px"><span class="d" style="left:302px;width:8px">2</span><span class="d" style="left:310px;width:8px">0</span></div>
<div class="nr" style="top:337px"><span class="d" style="left:373px;width:8px">8</span><span class="d" style="left:381px;width:8px">8</span></div>
<div class="nr" style="top:337px"><span class="d" style="left:444px;width:8px">9</span><span class="d" style="left:452px;width:8px">7</span></div>
<div class="nr" style="top:337px"><span class="d" style="left:511px;width:8px">1</span><span class="d" style="left:519px;width:8px">6</span><span class="d" style="left:527px;width:8px">8</span></div>
<div class="nr" style="top:337px"><span class="d" style="left:595px;width:8px">2</span><span class="d" style="left:603px;width:4px">,</span><span class="d" style="left:607px;width:8px">5</span><span class="d" style="left:615px;width:8px">3</span><span class="d" style="left:623px;width:8px">6</span></div>
<div class="t nm" id="n13" style="left:6.02px;top:361.40px;transform:scale(0.8492,0.88)">新型<span class="kn">コロナウイルス</span></div>
<div class="nr" style="top:360px"><span class="d" style="left:160px;width:8px">7</span><span class="d" style="left:168px;width:8px">9</span></div>
<div class="nr" style="top:360px"><span class="d" style="left:231px;width:8px">4</span><span class="d" style="left:239px;width:8px">9</span></div>
<div class="nr" style="top:360px"><span class="d" style="left:302px;width:8px">5</span><span class="d" style="left:310px;width:8px">5</span></div>
<div class="nr" style="top:360px"><span class="d" style="left:373px;width:8px">4</span><span class="d" style="left:381px;width:8px">8</span></div>
<div class="nr" style="top:360px"><span class="d" style="left:444px;width:8px">1</span><span class="d" style="left:452px;width:8px">9</span></div>
<div class="nr" style="top:360px"><span class="d" style="left:515px;width:8px">2</span><span class="d" style="left:523px;width:8px">5</span></div>
<div class="nr" style="top:360px"><span class="d" style="left:595px;width:8px">1</span><span class="d" style="left:603px;width:4px">,</span><span class="d" style="left:607px;width:8px">3</span><span class="d" style="left:615px;width:8px">0</span><span class="d" style="left:623px;width:8px">0</span></div>
<div class="t nm" id="n14" style="left:6.00px;top:384.40px;transform:scale(0.9826,0.88)">急性呼吸器感染症</div>
<div class="nr" style="top:383px"><span class="d" style="left:150px;width:8px">1</span><span class="d" style="left:158px;width:4px">,</span><span class="d" style="left:162px;width:8px">6</span><span class="d" style="left:170px;width:8px">9</span><span class="d" style="left:178px;width:8px">3</span></div>
<div class="nr" style="top:383px"><span class="d" style="left:221px;width:8px">1</span><span class="d" style="left:229px;width:4px">,</span><span class="d" style="left:233px;width:8px">7</span><span class="d" style="left:241px;width:8px">3</span><span class="d" style="left:249px;width:8px">1</span></div>
<div class="nr" style="top:383px"><span class="d" style="left:292px;width:8px">1</span><span class="d" style="left:300px;width:4px">,</span><span class="d" style="left:304px;width:8px">8</span><span class="d" style="left:312px;width:8px">0</span><span class="d" style="left:320px;width:8px">1</span></div>
<div class="nr" style="top:383px"><span class="d" style="left:363px;width:8px">1</span><span class="d" style="left:371px;width:4px">,</span><span class="d" style="left:375px;width:8px">9</span><span class="d" style="left:383px;width:8px">1</span><span class="d" style="left:391px;width:8px">1</span></div>
<div class="nr" style="top:383px"><span class="d" style="left:434px;width:8px">1</span><span class="d" style="left:442px;width:4px">,</span><span class="d" style="left:446px;width:8px">5</span><span class="d" style="left:454px;width:8px">7</span><span class="d" style="left:462px;width:8px">3</span></div>
<div class="nr" style="top:383px"><span class="d" style="left:505px;width:8px">2</span><span class="d" style="left:513px;width:4px">,</span><span class="d" style="left:517px;width:8px">0</span><span class="d" style="left:525px;width:8px">2</span><span class="d" style="left:533px;width:8px">6</span></div>
<div class="nr" style="top:383px"><span class="d" style="left:591px;width:8px">4</span><span class="d" style="left:599px;width:8px">7</span><span class="d" style="left:607px;width:4px">,</span><span class="d" style="left:611px;width:8px">3</span><span class="d" style="left:619px;width:8px">5</span><span class="d" style="left:627px;width:8px">7</span></div>
<svg style="position:absolute;left:0;top:0" width="668" height="485" shape-rendering="crispEdges"><path fill="#ff0000" d="M183 66h1v13h-1z M182 67h3v1h-3z M181 68h1v1h-1z M185 68h1v1h-1z M325 66h1v13h-1z M324 67h3v1h-3z M323 68h1v1h-1z M327 68h1v1h-1z M534 66h1v13h-1z M533 67h3v1h-3z M532 68h1v1h-1z M536 68h1v1h-1z M179 89h1v13h-1z M178 90h3v1h-3z M177 91h1v1h-1z M181 91h1v1h-1z M250 89h1v13h-1z M249 90h3v1h-3z M248 91h1v1h-1z M252 91h1v1h-1z M321 89h1v13h-1z M320 90h3v1h-3z M319 91h1v1h-1z M323 91h1v1h-1z M392 89h1v13h-1z M391 90h3v1h-3z M390 91h1v1h-1z M394 91h1v1h-1z M534 89h1v13h-1z M533 90h3v1h-3z M532 91h1v1h-1z M536 91h1v1h-1z M183 112h1v13h-1z M182 113h3v1h-3z M181 114h1v1h-1z M185 114h1v1h-1z M254 112h1v13h-1z M253 113h3v1h-3z M252 114h1v1h-1z M256 114h1v1h-1z M325 112h1v13h-1z M324 113h3v1h-3z M323 114h1v1h-1z M327 114h1v1h-1z M538 112h1v13h-1z M537 113h3v1h-3z M536 114h1v1h-1z M540 114h1v1h-1z M325 135h1v13h-1z M324 136h3v1h-3z M323 137h1v1h-1z M327 137h1v1h-1z M467 135h1v13h-1z M466 136h3v1h-3z M465 137h1v1h-1z M469 137h1v1h-1z M179 158h1v13h-1z M178 159h3v1h-3z M177 160h1v1h-1z M181 160h1v1h-1z M254 158h1v13h-1z M253 159h3v1h-3z M252 160h1v1h-1z M256 160h1v1h-1z M392 158h1v13h-1z M391 159h3v1h-3z M390 160h1v1h-1z M394 160h1v1h-1z M534 158h1v13h-1z M533 159h3v1h-3z M532 160h1v1h-1z M536 160h1v1h-1z M183 181h1v13h-1z M182 182h3v1h-3z M181 183h1v1h-1z M185 183h1v1h-1z M321 181h1v13h-1z M320 182h3v1h-3z M319 183h1v1h-1z M323 183h1v1h-1z M534 181h1v13h-1z M533 182h3v1h-3z M532 183h1v1h-1z M536 183h1v1h-1z M254 204h1v13h-1z M253 205h3v1h-3z M252 206h1v1h-1z M256 206h1v1h-1z M396 204h1v13h-1z M395 205h3v1h-3z M394 206h1v1h-1z M398 206h1v1h-1z M534 204h1v13h-1z M533 205h3v1h-3z M532 206h1v1h-1z M536 206h1v1h-1z M179 227h1v13h-1z M178 228h3v1h-3z M177 229h1v1h-1z M181 229h1v1h-1z M321 227h1v13h-1z M320 228h3v1h-3z M319 229h1v1h-1z M323 229h1v1h-1z M392 227h1v13h-1z M391 228h3v1h-3z M390 229h1v1h-1z M394 229h1v1h-1z M463 227h1v13h-1z M462 228h3v1h-3z M461 229h1v1h-1z M465 229h1v1h-1z M325 250h1v13h-1z M324 251h3v1h-3z M323 252h1v1h-1z M327 252h1v1h-1z M534 250h1v13h-1z M533 251h3v1h-3z M532 252h1v1h-1z M536 252h1v1h-1z M250 273h1v13h-1z M249 274h3v1h-3z M248 275h1v1h-1z M252 275h1v1h-1z M392 273h1v13h-1z M391 274h3v1h-3z M390 275h1v1h-1z M394 275h1v1h-1z M534 273h1v13h-1z M533 274h3v1h-3z M532 275h1v1h-1z M536 275h1v1h-1z M179 296h1v13h-1z M178 297h3v1h-3z M177 298h1v1h-1z M181 298h1v1h-1z M321 296h1v13h-1z M320 297h3v1h-3z M319 298h1v1h-1z M323 298h1v1h-1z M463 296h1v13h-1z M462 297h3v1h-3z M461 298h1v1h-1z M465 298h1v1h-1z M179 319h1v13h-1z M178 320h3v1h-3z M177 321h1v1h-1z M181 321h1v1h-1z M183 342h1v13h-1z M182 343h3v1h-3z M181 344h1v1h-1z M185 344h1v1h-1z M254 342h1v13h-1z M253 343h3v1h-3z M252 344h1v1h-1z M256 344h1v1h-1z M396 342h1v13h-1z M395 343h3v1h-3z M394 344h1v1h-1z M398 344h1v1h-1z M467 342h1v13h-1z M466 343h3v1h-3z M465 344h1v1h-1z M469 344h1v1h-1z M542 342h1v13h-1z M541 343h3v1h-3z M540 344h1v1h-1z M544 344h1v1h-1z M183 365h1v13h-1z M182 366h3v1h-3z M181 367h1v1h-1z M185 367h1v1h-1z M325 365h1v13h-1z M324 366h3v1h-3z M323 367h1v1h-1z M327 367h1v1h-1z M538 365h1v13h-1z M537 366h3v1h-3z M536 367h1v1h-1z M540 367h1v1h-1z M264 388h1v13h-1z M263 389h3v1h-3z M262 390h1v1h-1z M266 390h1v1h-1z M335 388h1v13h-1z M334 389h3v1h-3z M333 390h1v1h-1z M337 390h1v1h-1z M406 388h1v13h-1z M405 389h3v1h-3z M404 390h1v1h-1z M408 390h1v1h-1z M548 388h1v13h-1z M547 389h3v1h-3z M546 390h1v1h-1z M550 390h1v1h-1z"/><path fill="#0070c0" d="M254 66h1v13h-1z M253 77h3v1h-3z M252 76h1v1h-1z M256 76h1v1h-1z M396 66h1v13h-1z M395 77h3v1h-3z M394 76h1v1h-1z M398 76h1v1h-1z M463 66h1v13h-1z M462 77h3v1h-3z M461 76h1v1h-1z M465 76h1v1h-1z M463 89h1v13h-1z M462 100h3v1h-3z M461 99h1v1h-1z M465 99h1v1h-1z M396 112h1v13h-1z M395 123h3v1h-3z M394 122h1v1h-1z M398 122h1v1h-1z M467 112h1v13h-1z M466 123h3v1h-3z M465 122h1v1h-1z M469 122h1v1h-1z M183 135h1v13h-1z M182 146h3v1h-3z M181 145h1v1h-1z M185 145h1v1h-1z M254 135h1v13h-1z M253 146h3v1h-3z M252 145h1v1h-1z M256 145h1v1h-1z M396 135h1v13h-1z M395 146h3v1h-3z M394 145h1v1h-1z M398 145h1v1h-1z M538 135h1v13h-1z M537 146h3v1h-3z M536 145h1v1h-1z M540 145h1v1h-1z M321 158h1v13h-1z M320 169h3v1h-3z M319 168h1v1h-1z M323 168h1v1h-1z M463 158h1v13h-1z M462 169h3v1h-3z M461 168h1v1h-1z M465 168h1v1h-1z M250 181h1v13h-1z M249 192h3v1h-3z M248 191h1v1h-1z M252 191h1v1h-1z M392 181h1v13h-1z M391 192h3v1h-3z M390 191h1v1h-1z M394 191h1v1h-1z M463 181h1v13h-1z M462 192h3v1h-3z M461 191h1v1h-1z M465 191h1v1h-1z M179 204h1v13h-1z M178 215h3v1h-3z M177 214h1v1h-1z M181 214h1v1h-1z M321 204h1v13h-1z M320 215h3v1h-3z M319 214h1v1h-1z M323 214h1v1h-1z M463 204h1v13h-1z M462 215h3v1h-3z M461 214h1v1h-1z M465 214h1v1h-1z M250 227h1v13h-1z M249 238h3v1h-3z M248 237h1v1h-1z M252 237h1v1h-1z M534 227h1v13h-1z M533 238h3v1h-3z M532 237h1v1h-1z M536 237h1v1h-1z M183 250h1v13h-1z M182 261h3v1h-3z M181 260h1v1h-1z M185 260h1v1h-1z M254 250h1v13h-1z M253 261h3v1h-3z M252 260h1v1h-1z M256 260h1v1h-1z M392 250h1v13h-1z M391 261h3v1h-3z M390 260h1v1h-1z M394 260h1v1h-1z M463 250h1v13h-1z M462 261h3v1h-3z M461 260h1v1h-1z M465 260h1v1h-1z M179 273h1v13h-1z M178 284h3v1h-3z M177 283h1v1h-1z M181 283h1v1h-1z M321 273h1v13h-1z M320 284h3v1h-3z M319 283h1v1h-1z M323 283h1v1h-1z M463 273h1v13h-1z M462 284h3v1h-3z M461 283h1v1h-1z M465 283h1v1h-1z M250 296h1v13h-1z M249 307h3v1h-3z M248 306h1v1h-1z M252 306h1v1h-1z M392 296h1v13h-1z M391 307h3v1h-3z M390 306h1v1h-1z M394 306h1v1h-1z M321 319h1v13h-1z M320 330h3v1h-3z M319 329h1v1h-1z M323 329h1v1h-1z M325 342h1v13h-1z M324 353h3v1h-3z M323 352h1v1h-1z M327 352h1v1h-1z M254 365h1v13h-1z M253 376h3v1h-3z M252 375h1v1h-1z M256 375h1v1h-1z M396 365h1v13h-1z M395 376h3v1h-3z M394 375h1v1h-1z M398 375h1v1h-1z M467 365h1v13h-1z M466 376h3v1h-3z M465 375h1v1h-1z M469 375h1v1h-1z M193 388h1v13h-1z M192 399h3v1h-3z M191 398h1v1h-1z M195 398h1v1h-1z M477 388h1v13h-1z M476 399h3v1h-3z M475 398h1v1h-1z M479 398h1v1h-1z"/><path fill="#ffff00" d="M528 302h13v1h-13z M539 301h1v3h-1z M538 300h1v1h-1z M538 304h1v1h-1z M244 325h13v1h-13z M255 324h1v3h-1z M254 323h1v1h-1z M254 327h1v1h-1z M386 325h13v1h-13z M397 324h1v3h-1z M396 323h1v1h-1z M396 327h1v1h-1z M457 325h13v1h-13z M468 324h1v3h-1z M467 323h1v1h-1z M467 327h1v1h-1z M528 325h13v1h-13z M539 324h1v3h-1z M538 323h1v1h-1z M538 327h1v1h-1z"/></svg>
<div class="t hd" id="h0a" style="left:155.77px;top:12.00px;transform:scale(0.9938,1)"><span class="hn" style="width:31.80px"><span>2025</span></span>年</div>
<div class="t hd" id="h0b" style="left:155.83px;top:31.00px;transform:scale(1.0067,1)">第<span class="hn" style="width:15.90px"><span>38</span></span>週</div>
<div class="t hd" id="h1a" style="left:226.77px;top:12.00px;transform:scale(0.9938,1)"><span class="hn" style="width:31.80px"><span>2025</span></span>年</div>
<div class="t hd" id="h1b" style="left:226.83px;top:31.00px;transform:scale(1.0067,1)">第<span class="hn" style="width:15.90px"><span>39</span></span>週</div>
<div class="t hd" id="h2a" style="left:297.77px;top:12.00px;transform:scale(0.9938,1)"><span class="hn" style="width:31.80px"><span>2025</span></span>年</div>
<div class="t hd" id="h2b" style="left:297.83px;top:31.00px;transform:scale(1.0067,1)">第<span class="hn" style="width:15.90px"><span>40</span></span>週</div>
<div class="t hd" id="h3a" style="left:368.77px;top:12.00px;transform:scale(0.9938,1)"><span class="hn" style="width:31.80px"><span>2025</span></span>年</div>
<div class="t hd" id="h3b" style="left:368.83px;top:31.00px;transform:scale(1.0067,1)">第<span class="hn" style="width:15.90px"><span>41</span></span>週</div>
<div class="t hd" id="h4a" style="left:439.77px;top:12.00px;transform:scale(0.9938,1)"><span class="hn" style="width:31.80px"><span>2025</span></span>年</div>
<div class="t hd" id="h4b" style="left:439.83px;top:31.00px;transform:scale(1.0067,1)">第<span class="hn" style="width:15.90px"><span>42</span></span>週</div>
<div class="t hd" id="h5a" style="left:510.77px;top:12.00px;transform:scale(0.9938,1)"><span class="hn" style="width:31.80px"><span>2025</span></span>年</div>
<div class="t hd" id="h5b" style="left:510.83px;top:31.00px;transform:scale(1.0067,1)">第<span class="hn" style="width:15.90px"><span>43</span></span>週</div>
<div class="t hd" id="h6a" style="left:582.00px;top:14.00px;transform:scale(0.9248,1)">第１週<span class="hg">から</span></div>
<div class="t hd" id="h6b" style="left:595.18px;top:33.00px;transform:scale(0.9309,1)"><span class="hg">の</span>合計</div>
<div class="t cap1" id="cap1" style="left:235.21px;top:427.50px;transform:scale(1.0511,1)">第<span class="c1d"><span>4</span></span><span class="c1d"><span>3</span></span>週疾患毎発生数（人）</div>
<div class="t cap2" id="cap2" style="left:249.60px;top:453.25px;transform:scale(0.9970,1)">※小児科定点<span class="c2d">1</span><span class="c2d">1</span>ヶ所</div>
</body></html>
